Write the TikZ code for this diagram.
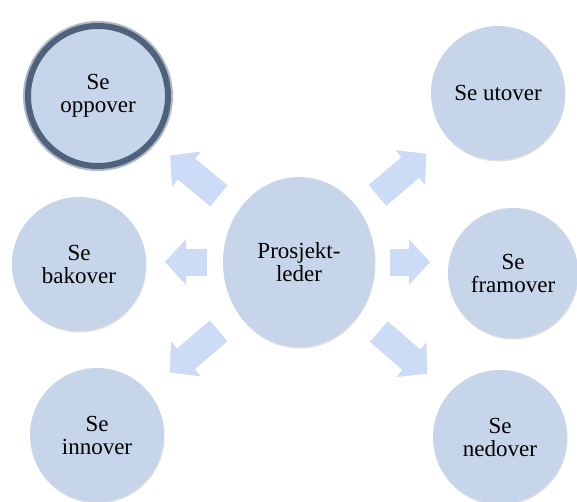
\documentclass[tikz,border=0pt]{standalone}
\usepackage{fontspec}
\setmainfont{Liberation Serif}
\usetikzlibrary{arrows.meta,calc,shadows,shapes.geometric}

\definecolor{bubblefill}{RGB}{198,213,234}
\definecolor{arrowfill}{RGB}{204,220,246}
\definecolor{ringcol}{RGB}{78,98,124}

\begin{document}
\begin{tikzpicture}[x=1pt,y=-1pt,
    bubble/.style={circle,fill=bubblefill,minimum size=134pt,inner sep=0pt,
      align=center,font=\fontsize{23}{23}\selectfont,
      drop shadow={shadow xshift=0.5pt,shadow yshift=-1.5pt,opacity=0.25}},
    blockarrow/.style={draw=arrowfill,line width=27pt,line cap=butt,
      -{Triangle[length=21pt,width=44pt]}},
    arrowshade/.style={blockarrow,draw=black,opacity=0.12,shift={(1pt,2pt)}}]
  \useasboundingbox (0,0) rectangle (577,501);

  % Nodes
  \node[bubble,ellipse,minimum width=152pt,minimum height=170pt] (lead) at (299,262) {Prosjekt-\\leder};
  \node[bubble,draw=ringcol,line width=6pt,minimum size=140pt,
    drop shadow={shadow xshift=0pt,shadow yshift=-1pt,opacity=0},
    preaction={draw=ringcol,line width=10pt,opacity=0.45}] (up) at (98,96) {Se\\oppover};
  \node[bubble] (out) at (498,93) {Se utover};
  \node[bubble] (back) at (79,264) {Se\\bakover};
  \node[bubble,minimum size=130pt] (fwd) at (513,273) {Se\\framover};
  \node[bubble] (in) at (97,435) {Se\\innover};
  \node[bubble] (down) at (500,437) {Se\\nedover};

  % Arrows
  \foreach \target/\from/\to in {up/104/167,out/103/167,in/106/170,down/106/170}{
    \draw[arrowshade] ($(lead.center)!\from pt!(\target.center)$) -- ($(lead.center)!\to pt!(\target.center)$);
    \draw[blockarrow] ($(lead.center)!\from pt!(\target.center)$) -- ($(lead.center)!\to pt!(\target.center)$);
  }
  \foreach \target/\from/\to in {back/92/134,fwd/91/131}{
    \draw[arrowshade] ($(lead.center)!\from pt!(lead.center -| \target.center)$) -- ($(lead.center)!\to pt!(lead.center -| \target.center)$);
    \draw[blockarrow] ($(lead.center)!\from pt!(lead.center -| \target.center)$) -- ($(lead.center)!\to pt!(lead.center -| \target.center)$);
  }
\end{tikzpicture}
\end{document}
